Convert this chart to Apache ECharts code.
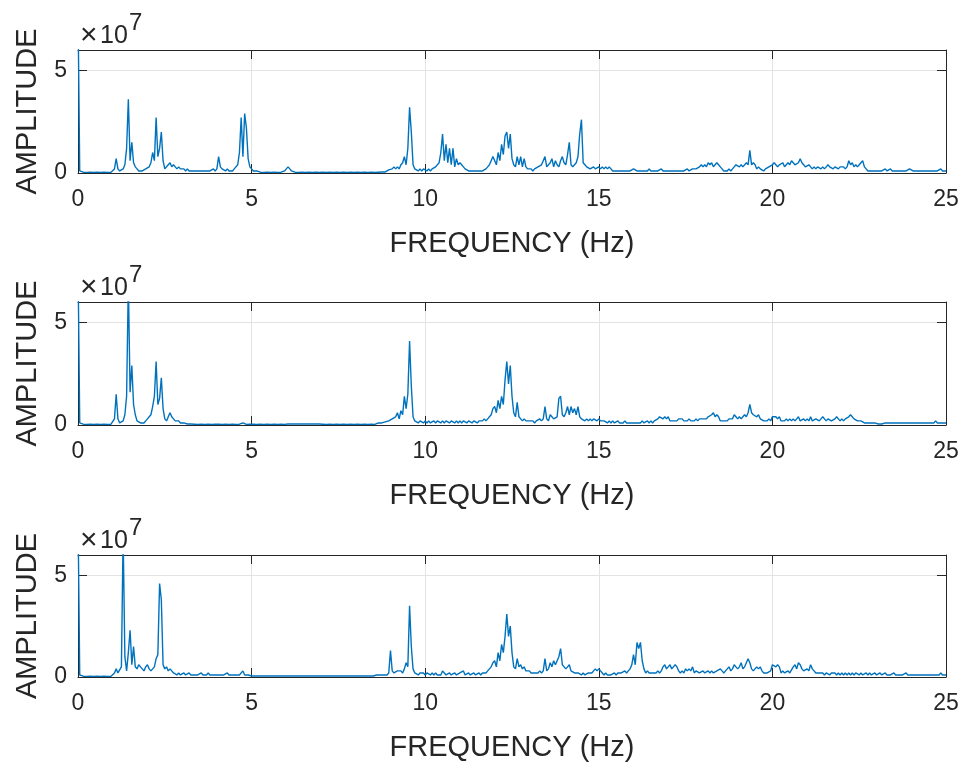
<!DOCTYPE html>
<html>
<head>
<meta charset="utf-8">
<script src="https://cdn.jsdelivr.net/npm/echarts@6/dist/echarts.min.js"></script>
<style>
html,body{margin:0;padding:0;background:#fff;}
#chart{width:967px;height:765px;}
</style>
</head>
<body>
<div id="chart"></div>
<script>
// Frequency bins: 0 .. 25 Hz every 0.05 Hz (one row below = 1 Hz)
const FREQ_STEP = 0.05;
// Amplitudes in units of 1e6
const AMP_UNIT = 1e6;

const amp1 = [
80,1,.5,.4,.5,.3,.5,.4,.5,.3,.5,.4,.5,.3,.5,.4,.5,.3,.5,.4,
1,2,7,2,1,1,2,4,12,36,6,15,5,3,2,1,1,1,1,2,
2,3,5,10,6,27,8,12,20,6,2,2,4,5,3,4,3,2,3,2,
2,2,1,2,1,1,1,.5,1,.5,1,.5,1,.5,1,.5,1,1,2,1,
2,8,3,2,2,1,2,1,1,1,2,2,4,10,27,8,29,22,7,3,
2,1,.5,1,.5,.4,.5,.3,.5,.4,.5,.3,.5,.4,.5,.3,.5,.4,.5,1,
2,3,2,1,.5,.4,.5,.3,.5,.4,.5,.3,.5,.4,.5,.3,.5,.4,.5,.3,
.5,.4,.5,.3,.5,.4,.5,.3,.5,.4,.5,.3,.5,.4,.5,.3,.5,.4,.5,.3,
.5,.4,.5,.3,.5,.4,.5,.3,.5,.4,.5,.3,.5,.4,1,.5,1,.5,1,1.5,
2,2,3,2,3,2,4,5,8,4,12,32,20,4,2,2,1,2,1,2,
2,1,2,1,2,2,3,3,5,10,19,6,14,5,12,4,12,3,7,4,
5,4,3,2,2,1,1,1,1,1,1,1,1,1,1,2,3,4,6,8,
8,4,10,6,14,9,18,20,12,19,7,4,3,8,4,8,3,7,3,2,
2,2,1,2,2,3,3,4,6,8,3,3,5,7,3,6,4,3,6,8,
5,4,9,15,4,3,4,5,8,19,26,5,4,3,3,2,2,3,2,2,
3,2,3,2,3,2,3,2,1,1,1,1,1,1,1,1,1,1,1,1,
2,2,1,1,1,1,1,1,1,2,1,1,1,1,1,1,2,1,1,1,
1,1,1,1,1,1,1,1,1,1,1,2,1,1,2,2,2,2,3,4,
3,4,3,5,4,5,3,4,5,4,3,2,1,1,1,2,1,2,3,4,
4,3,4,3,3,5,4,11,4,5,4,2,3,2,2,1,2,2,3,3,
4,5,4,3,4,4,5,3,4,5,4,6,5,4,4,5,7,5,4,3,
3,4,3,2,3,2,3,3,2,3,2,3,4,3,3,2,3,3,2,3,
3,3,2,3,6,4,5,3,4,3,4,5,6,3,2,1,1,1,1,1,
1,1,1,1,1,2,1,1,2,1,1,1,1,1,1,1,1,1,1,2,
2,1,1,1,1,1,1,1,1,1,1,1,1,1,1,1,1,2,1,1,
1
];

const amp2 = [
80,1,.5,.4,.5,.3,.5,.4,.5,.3,.5,.4,.5,.3,.5,.4,.5,.3,.5,.4,
1,3,15,3,1,1,2,5,14,70,16,29,10,5,2,2,1,1,1,2,
3,4,5,9,14,31,10,13,23,8,3,2,4,6,4,3,2,2,2,1,
1,1,1,.5,1,.5,.5,.4,.5,.3,.5,.4,.5,.3,.5,.4,.5,.3,.5,.4,
.5,.4,.5,.3,.5,.4,.5,.3,.5,.4,.5,.3,.5,.4,.5,1,.5,.3,.5,.4,
.5,.4,.5,.3,.5,.4,.5,.3,.5,.4,.5,.3,.5,.4,.5,.3,.5,.4,.5,.3,
1,.5,.4,.5,.3,.5,.4,.5,.3,.5,.4,.5,.3,.5,.4,.5,.3,.5,.4,.5,
.5,.4,.5,.3,.5,.4,.5,.3,.5,.4,.5,.3,.5,.4,.5,.3,.5,.4,.5,.3,
.5,.4,.5,.3,.5,.4,.5,.3,.5,.4,.5,.3,.5,1,.5,1,1,1.5,1,2,
2,3,3,4,6,3,7,5,14,8,15,41,19,4,2,2,1,2,2,1,
2,1,2,1,1,2,1,2,2,1,2,1,2,2,1,2,2,1,2,1,
2,1,2,2,1,2,2,1,2,2,1,2,2,2,3,2,3,4,5,8,
9,6,12,8,14,10,22,31,20,29,14,6,4,11,4,3,2,3,2,2,
2,2,2,1,2,2,3,2,3,9,3,2,5,4,3,3,4,13,14,5,
4,6,9,5,9,6,8,5,9,4,3,3,2,3,2,3,2,3,3,2,
3,2,2,2,2,1,2,1,2,1,1,2,1,1,1,2,1,1,1,1,
1,1,1,1,1,2,1,1,2,1,2,1,2,2,3,4,4,3,4,3,
4,2,2,2,2,2,3,3,3,2,2,2,3,2,2,2,3,2,3,3,
3,3,3,4,4,5,6,4,5,4,2,2,2,2,2,3,3,3,5,4,
3,4,3,4,5,4,6,10,6,5,5,4,5,3,3,2,2,2,3,2,
4,4,4,3,4,2,2,2,3,2,3,2,3,2,3,4,2,2,3,2,
3,2,4,2,2,3,3,2,3,4,3,2,3,3,2,2,3,4,3,2,
3,2,3,3,4,5,4,3,3,2,2,2,2,1,1,1,1,1,1,1,
1,.5,1,.5,1,1,.5,1,.5,1,.5,1,.5,1,.5,1,.5,1,.5,1,
.5,1,.5,1,.5,1,.5,1,.5,1,.5,1,.5,1,2,1,.5,1,.5,1,
1
];

const amp3 = [
80,1,.5,.4,.5,.3,.5,.4,.5,.3,.5,.4,.5,.3,.5,.4,.5,.3,.5,.4,
1,2,4,2,2,5,70,10,3,12,23,6,15,5,4,6,5,4,3,5,
6,4,3,4,5,9,11,46,38,6,4,5,3,4,3,2,2,1,2,1,
1,2,1,1,2,1,1,1,1,1,1,2,1,1,1,2,1,1,1,1,
1,1,1,1,1,1,2,1,1,1,1,1,1,1,1,3,1,1,1,1,
.5,.4,.5,.3,.5,.4,.5,.3,.5,.4,.5,.3,.5,.4,.5,.3,.5,.4,.5,.3,
.5,.4,.5,.3,.5,.4,.5,.3,.5,.4,.5,.3,.5,.4,.5,.3,.5,.4,.5,.3,
.5,.4,.5,.3,.5,.4,.5,.3,.5,.4,.5,.3,.5,.4,.5,.3,.5,.4,.5,.3,
.5,.4,.5,.3,.5,.4,.5,.3,.5,.4,.5,.3,1,.5,1,.5,1,1.5,1,2,
13,3,2,2,3,3,3,2,4,7,5,35,15,4,2,2,1,2,2,2,
1,2,2,1,2,1,2,1,1,1,3,2,1,1,2,1,1,2,1,1,
2,2,3,1,1,2,1,1,2,1,1,2,1,2,2,2,3,4,5,7,
8,5,12,8,16,12,20,31,20,25,12,5,4,9,5,6,4,5,3,3,
3,2,2,2,2,2,3,2,3,9,3,4,7,5,8,6,8,10,14,6,
5,4,5,6,3,3,2,2,2,2,1,2,1,1,2,2,2,3,4,3,
4,3,2,1,2,1,1,1,1,2,1,2,2,2,2,3,2,3,4,6,
11,6,17,14,17,8,4,2,3,2,2,2,2,2,3,2,3,5,6,4,
5,6,4,5,6,5,3,2,3,2,4,3,4,3,5,2,3,3,2,2,
3,2,2,3,2,3,2,2,3,3,4,3,2,3,4,5,3,4,6,5,
4,5,7,4,5,5,9,7,4,3,4,5,4,5,3,2,2,2,2,3,
6,6,5,6,5,2,3,2,2,3,2,2,5,6,4,7,6,4,3,3,
4,3,6,4,3,2,2,2,2,2,1,2,2,1,2,2,2,1,2,1,
2,1,2,1,2,1,2,1,2,2,1,2,1,1,2,1,2,1,1,2,
1,1,2,1,1,2,1,1,1,1,2,1,1,1,1,1,1,2,1,1,
1,1,1,1,1,1,1,1,1,1,1,1,1,1,1,1,1,2,1,1,
1
];

const xTicks = [0, 5, 10, 15, 20, 25];
const yTicks = [0, 5];          // in units of 1e7
const Y_EXP = 1e7;
const Y_MAX = 6e7;
const X_LABEL = 'FREQUENCY (Hz)';
const Y_LABEL = 'AMPLITUDE';
const EXP_TIMES = '×';
const EXP_BASE = '10';
const EXP_POW = '7';

const FONT = '"Liberation Sans", Arial, Helvetica, sans-serif';
const AX = '#262626';
const GRIDC = '#e3e3e3';
const LINEC = '#0072BD';

const panels = [amp1, amp2, amp3];
const tops = [50, 302, 555];
const heights = [123, 123, 122];

const grid = [], xAxis = [], yAxis = [], series = [], graphic = [];
panels.forEach((amp, k) => {
  grid.push({left: 78, right: 21, top: tops[k], height: heights[k]});
  xAxis.push({
    type: 'value', gridIndex: k, min: xTicks[0], max: xTicks[xTicks.length-1],
    interval: xTicks[1]-xTicks[0], position: 'bottom',
    axisLine: {show: true, onZero: false, lineStyle: {color: AX, width: 1}},
    axisTick: {show: true, inside: true, length: 9, lineStyle: {color: AX, width: 1}},
    axisLabel: {show: true, color: AX, fontSize: 23, fontFamily: FONT, margin: 15},
    splitLine: {show: true, lineStyle: {color: GRIDC, width: 1}},
    name: X_LABEL, nameLocation: 'middle', nameGap: 56,
    nameTextStyle: {color: AX, fontSize: 29, fontFamily: FONT}
  });
  xAxis.push({
    type: 'value', gridIndex: k, min: xTicks[0], max: xTicks[xTicks.length-1],
    interval: xTicks[1]-xTicks[0], position: 'top',
    axisLine: {show: true, onZero: false, lineStyle: {color: AX, width: 1}},
    axisTick: {show: true, inside: true, length: 9, lineStyle: {color: AX, width: 1}},
    axisLabel: {show: false}, splitLine: {show: false}
  });
  const yfmt = v => (Math.abs(v % (yTicks[1]*Y_EXP)) < 1) ? String(v / Y_EXP) : '';
  yAxis.push({
    type: 'value', gridIndex: k, min: 0, max: Y_MAX, interval: yTicks[1]*Y_EXP, position: 'left',
    axisLine: {show: true, onZero: false, lineStyle: {color: AX, width: 1}},
    axisTick: {show: true, inside: true, length: 9, lineStyle: {color: AX, width: 1}},
    axisLabel: {show: true, color: AX, fontSize: 23, fontFamily: FONT, margin: 11, formatter: yfmt, showMaxLabel: false},
    splitLine: {show: true, lineStyle: {color: GRIDC, width: 1}},
    name: Y_LABEL, nameLocation: 'middle', nameGap: 36, nameRotate: 90,
    nameTextStyle: {color: AX, fontSize: 29, fontFamily: FONT}
  });
  yAxis.push({
    type: 'value', gridIndex: k, min: 0, max: Y_MAX, interval: yTicks[1]*Y_EXP, position: 'right',
    axisLine: {show: true, onZero: false, lineStyle: {color: AX, width: 1}},
    axisTick: {show: true, inside: true, length: 9, lineStyle: {color: AX, width: 1}},
    axisLabel: {show: false}, splitLine: {show: false}
  });
  series.push({
    type: 'line', xAxisIndex: 2*k, yAxisIndex: 2*k,
    data: amp.map((v, i) => [Math.round(i * FREQ_STEP * 100) / 100, v * AMP_UNIT]),
    showSymbol: false, symbol: 'none', clip: true, sampling: false,
    lineStyle: {color: LINEC, width: 1.4}, z: 3
  });
  graphic.push({type: 'text', left: 80, top: tops[k] - 29,
    style: {text: EXP_TIMES, font: '30px ' + FONT, fill: AX}});
  graphic.push({type: 'text', left: 100, top: tops[k] - 26,
    style: {text: EXP_BASE, font: '25px ' + FONT, fill: AX}});
  graphic.push({type: 'text', left: 129, top: tops[k] - 39,
    style: {text: EXP_POW, font: '24px ' + FONT, fill: AX}});
});

const chart = echarts.init(document.getElementById('chart'), null, {renderer: 'canvas'});
chart.setOption({
  animation: false,
  backgroundColor: '#ffffff',
  grid, xAxis, yAxis, series, graphic
});
</script>
</body>
</html>
